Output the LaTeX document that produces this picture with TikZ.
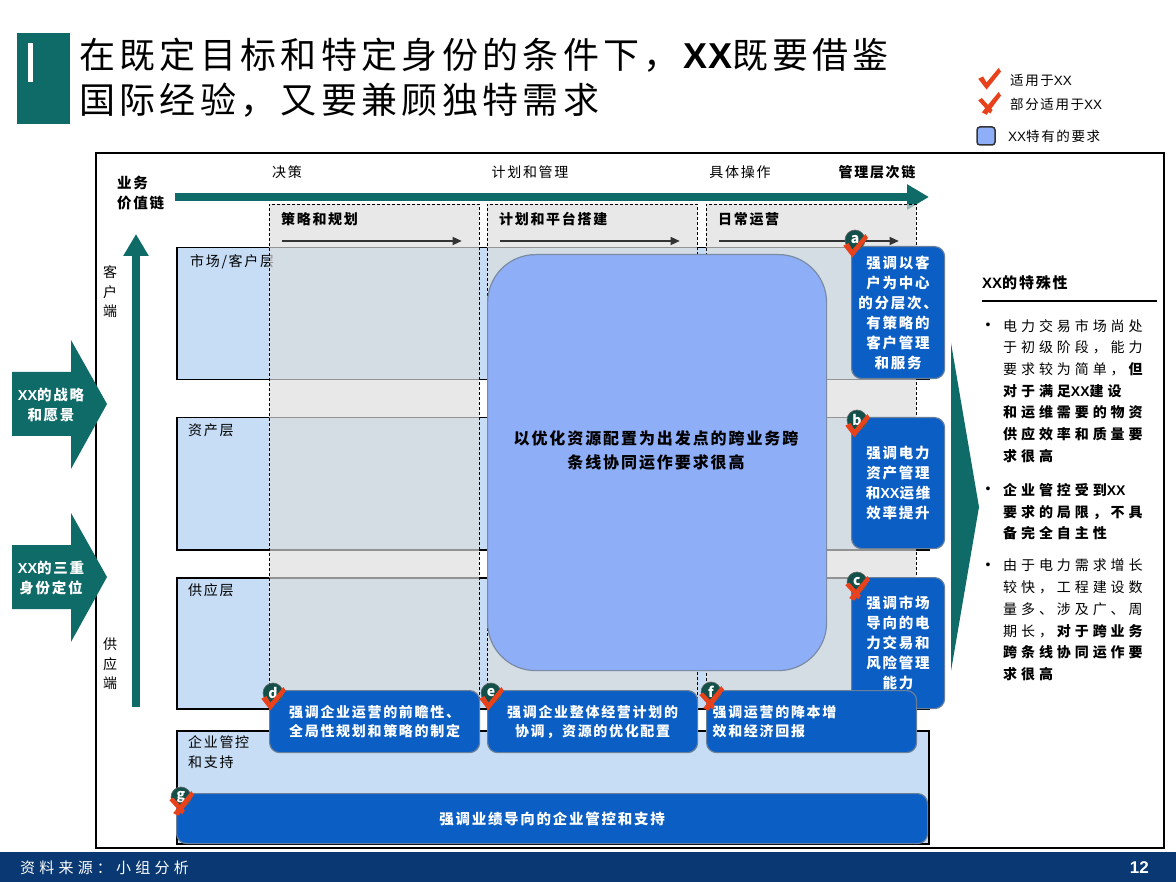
\documentclass[tikz,border=0pt]{standalone}
\usepackage{fontspec}
\setmainfont{Noto Sans CJK SC}[LetterSpace=12]
\newfontfamily\sidefont{Noto Sans CJK SC}[LetterSpace=28]
\newfontfamily\latinfont{Liberation Sans}
\newcommand\XX{{\latinfont XX}}
\usetikzlibrary{arrows.meta,positioning}
\definecolor{Teal}{HTML}{0F6B68}
\definecolor{Band}{HTML}{C6DDF5}
\definecolor{Colgray}{HTML}{DCDCDC}
\definecolor{Pale}{HTML}{8FAEF8}
\definecolor{Deep}{HTML}{0A5EC4}
\definecolor{Edge}{HTML}{6A7F99}
\definecolor{Badge}{HTML}{13504A}
\definecolor{Tick}{HTML}{E8421C}
\definecolor{Navy}{HTML}{0A3873}
\begin{document}
\begin{tikzpicture}[x=1pt,y=-1pt,
    band/.style={draw=black,line width=1.5pt,fill=Band,anchor=north west,inner sep=0pt},
    colarea/.style={draw=black,line width=0.7pt,dash pattern=on 3pt off 2pt,fill=Colgray,fill opacity=0.67,
      anchor=north west,inner sep=0pt,minimum width=210,minimum height=531},
    deepbox/.style={draw=Edge,line width=1.2pt,fill=Deep,rounded corners=10pt,text=white,align=center,
      anchor=north west,inner sep=0pt,font=\bfseries\fontsize{14.5}{20}\selectfont},
    badge/.style={circle,draw=black!60,line width=0.6pt,fill=Badge,minimum size=20pt,inner sep=0pt,
      text=white,font=\bfseries\fontsize{14}{14}\selectfont},
    lbl/.style={inner sep=0pt,font=\fontsize{14}{19.5}\selectfont},
    colhead/.style={inner sep=0pt,anchor=west,font=\bfseries\fontsize{14}{19}\selectfont},
    whitetxt/.style={inner sep=0pt,text=white,align=center,font=\bfseries\fontsize{14.5}{20}\selectfont},
    sidetxt/.style={inner sep=0pt,anchor=north west,align=left,font=\sidefont\fontsize{14}{21.7}\selectfont},
    teal arrow/.style={Teal,line width=8pt,-{Triangle[length=22pt,width=24pt]}},
    step arrow/.style={black!80,line width=1.2pt,-{Triangle[length=9pt,width=8pt]}},
    okmark/.pic={\fill[Tick] (-9,-1) -- (-5,-3) -- (-2,2) -- (8,-10) -- (10,-7) -- (-2,8) -- cycle;},
    partmark/.pic={\fill[Tick] (-6,7) -- (8,-10) -- (10,-7) -- (-2,9) -- cycle;
      \fill[Tick] (-9,-3) -- (-6,-5) -- (3,5) -- (1,8) -- cycle;}]
  \useasboundingbox (0,0) rectangle (1176,882);

  % title
  \fill[Teal] (17,33) rectangle (70,124);
  \fill[white] (28,43) rectangle (33,82);
  \node[inner sep=0pt,anchor=west,align=left,font=\fontsize{36}{45}\selectfont] (title) at (79,78)
    {在既定目标和特定身份的条件下，\textbf{\XX}既要借鉴\\国际经验，又要兼顾独特需求};

  % legend
  \pic[scale=1.2] at (989,80) {okmark};
  \pic[scale=1.2] at (989,104) {partmark};
  \node[draw=black!80,line width=1.5pt,fill=Pale,rounded corners=3pt,minimum size=18pt,inner sep=0pt] (lgsq) at (986,136) {};
  \node[lbl,anchor=west,font=\fontsize{13.5}{14}\selectfont] (lg1) at (1010,80) {适用于\XX};
  \node[lbl,anchor=west,font=\fontsize{13.5}{14}\selectfont] (lg2) at (1010,104) {部分适用于\XX};
  \node[lbl,anchor=west,font=\fontsize{13.5}{14}\selectfont] (lg3) at (1008,136) {\XX 特有的要求};

  % frame
  \draw[line width=1.5pt] (96,153) rectangle (1164,848);

  % chains
  \node[lbl] (lv1) at (287,172) {决策};
  \node[lbl] (lv2) at (530,172) {计划和管理};
  \node[lbl] (lv3) at (740,172) {具体操作};
  \node[lbl,font=\bfseries\fontsize{14}{19}\selectfont] (mgname) at (877,172) {管理层次链};
  \coordinate (mgA) at (175,197);
  \coordinate (mgB) at (929,197);
  \draw[teal arrow] (mgA) -- (mgB);
  \node[lbl,anchor=west,align=left,font=\bfseries\fontsize{14.5}{20}\selectfont] (vcname) at (117,193) {业务\\价值链};
  \coordinate (vcA) at (136,707);
  \coordinate (vcB) at (136,234);
  \draw[teal arrow] (vcA) -- (vcB);
  \node[lbl,align=center] (custend) at (110,292) {客\\户\\端};
  \node[lbl,align=center] (suppend) at (110,664) {供\\应\\端};

  % left inputs
  \fill[Teal] (12,372) -- (71,372) -- (71,340) -- (107,404) -- (71,469) -- (71,436) -- (12,436) -- cycle;
  \fill[Teal] (12,545) -- (71,545) -- (71,513) -- (107,577) -- (71,642) -- (71,609) -- (12,609) -- cycle;
  \node[whitetxt] (vision) at (51,405) {\XX 的战略\\和愿景};
  \node[whitetxt] (identity) at (51,578) {\XX 的三重\\身份定位};

  % layers
  \node[band,minimum width=752,minimum height=132] (mkt) at (176,247) {};
  \node[band,minimum width=752,minimum height=132] (asset) at (176,417) {};
  \node[band,minimum width=752,minimum height=131] (supply) at (176,577) {};
  \node[band,minimum width=752,minimum height=113] (ctl) at (176,730) {};
  \node[lbl,anchor=west] (mktname) at (190,262) {市场/客户层};
  \node[lbl,anchor=west] (assetname) at (188,430) {资产层};
  \node[lbl,anchor=west] (supplyname) at (188,590) {供应层};
  \node[lbl,anchor=west,align=left,font=\fontsize{14}{20}\selectfont] (ctlname) at (188,752) {企业管控\\和支持};

  % columns
  \foreach \x/\n/\t in {269/1/策略和规划,487/2/计划和平台搭建,706/3/日常运营} {
    \node[colarea] (col\n) at (\x,204) {};
    \node[colhead] (hd\n) at ([shift={(12,15)}]col\n.north west) {\t};
    \draw[step arrow] ([shift={(13,37)}]col\n.north west) -- ([shift={(-18,37)}]col\n.north east);
  }

  % shared requirement
  \node[draw=Edge!90,line width=1.2pt,fill=Pale,rounded corners=48pt,minimum width=339,minimum height=416,
    anchor=north west,inner sep=0pt] (core) at (487,254) {};
  \node[inner sep=0pt,align=center,font=\bfseries\fontsize{16}{24}\selectfont] (coretext) at (656,450)
    {以优化资源配置为出发点的跨业务跨\\条线协同运作要求很高};

  % layer requirements
  \node[deepbox,minimum width=93,minimum height=132] (reqa) at (851,246)
    {强调以客\\户为中心\\的分层次、\\有策略的\\客户管理\\和服务};
  \node[deepbox,minimum width=93,minimum height=131] (reqb) at (851,417)
    {强调电力\\资产管理\\和\XX 运维\\效率提升};
  \node[deepbox,minimum width=93,minimum height=131] (reqc) at (851,577)
    {强调市场\\导向的电\\力交易和\\风险管理\\能力};

  % stage requirements
  \node[deepbox,minimum width=210,minimum height=62,font=\bfseries\fontsize{14}{19}\selectfont] (reqd) at (269,690)
    {强调企业运营的前瞻性、\\全局性规划和策略的制定};
  \node[deepbox,minimum width=210,minimum height=62,font=\bfseries\fontsize{14}{19}\selectfont] (reqe) at (487,690)
    {强调企业整体经营计划的\\协调，资源的优化配置};
  \node[deepbox,text width=198,inner xsep=6pt,minimum height=62,align=left,font=\bfseries\fontsize{14}{19}\selectfont] (reqf) at (706,690)
    {强调运营的降本增\\效和经济回报};
  \node[deepbox,minimum width=751,minimum height=50] (reqg) at (176,793) {强调业绩导向的企业管控和支持};

  % badges
  \node[badge] (ba) at (855,240) {a};
  \node[badge] (bb) at (857,420) {b};
  \node[badge] (bc) at (857,582) {c};
  \node[badge] (bd) at (273,693) {d};
  \node[badge] (be) at (491,693) {e};
  \node[badge] (bf) at (711,692) {f};
  \node[badge] (bg) at (181,797) {g};
  \pic[scale=1.3] at ([shift={(0,7)}]ba.center) {okmark};
  \pic[scale=1.3] at ([shift={(0,7)}]bb.center) {okmark};
  \pic[scale=1.3] at ([shift={(0,7)}]bc.center) {partmark};
  \pic[scale=1.3] at ([shift={(0,7)}]bd.center) {okmark};
  \pic[scale=1.3] at ([shift={(0,7)}]be.center) {okmark};
  \pic[scale=1.3] at ([shift={(0,7)}]bf.center) {partmark};
  \pic[scale=1.3] at ([shift={(0,7)}]bg.center) {partmark};

  % specifics
  \fill[Teal] (951,343) -- (979,507) -- (951,671) -- cycle;
  \node[inner sep=0pt,anchor=west,font=\bfseries\fontsize{15}{15}\selectfont] (sptitle) at (982,283) {\XX 的特殊性};
  \coordinate (ruleL) at (982,301);
  \coordinate (ruleR) at (1157,301);
  \draw[line width=1.4pt] (ruleL) -- (ruleR);
  \node[sidetxt] (sp1) at (1003,319) {电力交易市场尚处\\于初级阶段，能力\\要求较为简单，\textbf{但}\\\textbf{对于满足\XX 建设}\\\textbf{和运维需要的物资}\\\textbf{供应效率和质量要}\\\textbf{求很高}};
  \node[sidetxt] (sp2) at (1003,483) {\textbf{企业管控受到\XX}\\\textbf{要求的局限，不具}\\\textbf{备完全自主性}};
  \node[sidetxt] (sp3) at (1003,559) {由于电力需求增长\\较快，工程建设数\\量多、涉及广、周\\期长，\textbf{对于跨业务}\\\textbf{跨条线协同运作要}\\\textbf{求很高}};
  \foreach \y/\n in {326/1,490/2,566/3}
    \node[inner sep=0pt,font=\latinfont\fontsize{14}{14}\selectfont] (dot\n) at (988,\y) {•};

  % footer
  \fill[Navy] (0,852) rectangle (1176,882);
  \node[inner sep=0pt,anchor=west,text=white,font=\sidefont\fontsize{15}{15}\selectfont] (src) at (20,868) {资料来源：小组分析};
  \node[inner sep=0pt,anchor=east,text=white,font=\latinfont\bfseries\fontsize{17}{17}\selectfont] (pg) at (1149,868) {12};
\end{tikzpicture}
\end{document}
